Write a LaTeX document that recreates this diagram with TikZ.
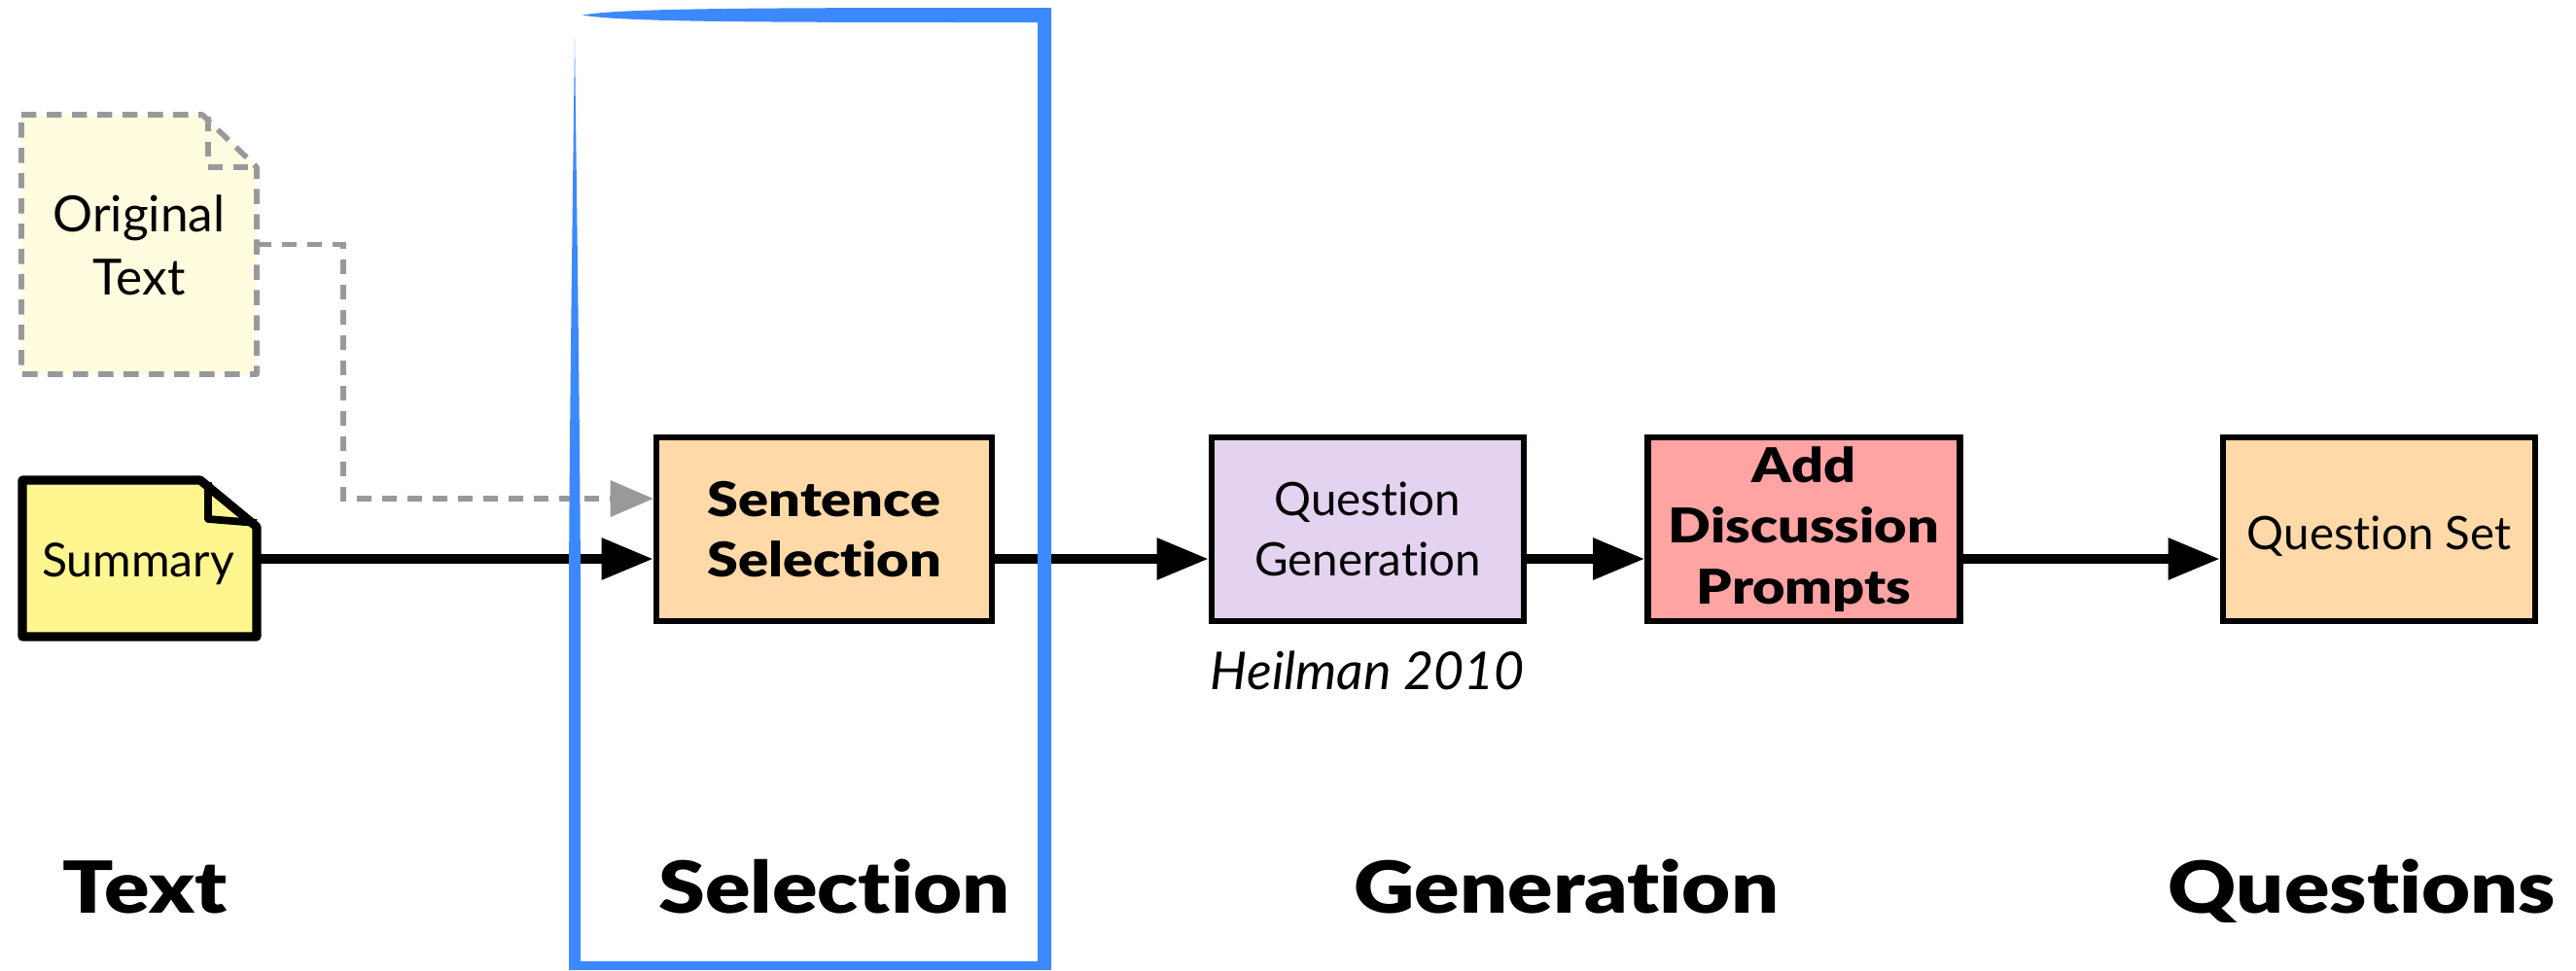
\documentclass[tikz,border=0pt]{standalone}
\usepackage{fontspec}
\setmainfont{Lato}[Ligatures=NoCommon]
\newfontfamily\heavyfont{Lato Black}[Ligatures=NoCommon,FakeStretch=1.17]
\usepackage{tikz}
\usetikzlibrary{positioning,arrows.meta}
\definecolor{notey}{HTML}{FFF68F}
\definecolor{notep}{HTML}{FFFCE0}
\definecolor{peach}{HTML}{FFDAA8}
\definecolor{lilac}{HTML}{E3D3F0}
\definecolor{rosy}{HTML}{FFA3A3}
\definecolor{blueb}{HTML}{3C89FF}
\definecolor{dashg}{HTML}{999999}
\tikzset{stagebox/.style={draw=black, line width=1.9pt, minimum width=3.21cm, minimum height=1.89cm, inner sep=0pt, align=center, font=\fontsize{13.5}{17.8}\selectfont, execute at begin node={\rule{0pt}{14pt}}}}
\tikzset{boldbox/.style={stagebox, font=\fontsize{14}{17.8}\heavyfont}}
\tikzset{arr/.style={draw, line width=2.6pt, -{Triangle[length=5.3mm,width=4.1mm]}}}
\tikzset{dashline/.style={draw=dashg, line width=1.6pt, dash pattern=on 4.4pt off 3pt}}
\tikzset{arr2/.style={dashline, -{Triangle[length=4.4mm,width=3.8mm,line width=0pt,fill=dashg]}}}
\tikzset{heading/.style={font=\fontsize{21}{25}\heavyfont, inner sep=0pt, anchor=base}}
\begin{document}
\begin{tikzpicture}[x=1cm,y=1cm]
	\useasboundingbox (0,0) rectangle (26.49,-9.98);
	% notes
	\fill[notep] (.22,-1.18) -- (2.08,-1.18) -- (2.64,-1.72) -- (2.64,-3.85) -- (.22,-3.85) -- cycle;
	\draw[dashline, line join=round] (.22,-1.18) -- (2.08,-1.18) -- (2.64,-1.72) -- (2.64,-3.85) -- (.22,-3.85) -- cycle;
	\draw[dashline] (2.14,-1.2) -- (2.14,-1.72) -- (2.64,-1.72);
	\node[font=\fontsize{14.6}{18.5}\selectfont, align=center] (orig) at (1.43,-2.52) {Original\\Text};
	\fill[notey, draw=black, line width=2.6pt, line join=round] (.23,-4.94) -- (2.06,-4.94) -- (2.64,-5.42) -- (2.64,-6.55) -- (.23,-6.55) -- cycle;
	\draw[black, line width=2.2pt, line join=round] (2.14,-4.96) -- (2.14,-5.34) -- (2.64,-5.38);
	\node[font=\fontsize{13.7}{16}\selectfont] (summary) at (1.42,-5.8) {Summary};
	% stages
	\node[boldbox, fill=peach, minimum width=3.45cm] (select) at (8.475,-5.445) {Sentence\\Selection};
	\node[stagebox, fill=lilac] (qgen) at (14.065,-5.445) {Question\\Generation};
	\node[boldbox, fill=rosy] (prompts) at (18.55,-5.445) {Add\\Discussion\\Prompts};
	\node[stagebox, fill=peach] (qset) at (24.465,-5.445) {Question Set};
	\node[font=\fontsize{15.3}{18}\selectfont\itshape, below=.15 of qgen] (heilman) {Heilman 2010};
	% connectors
	\coordinate (bend1) at (3.53,-2.515);
	\coordinate (bend2) at (3.53,-5.13);
	\coordinate (from) at (2.68,-5.75);
	\draw[arr] (from) -- (select.west |- from);
	\draw[arr] (select.east |- from) -- (qgen.west |- from);
	\draw[arr] (qgen.east |- from) -- (prompts.west |- from);
	\draw[arr] (prompts.east |- from) -- (qset.west |- from);
	\draw[arr2] (2.64,-2.515) -- (bend1) -- (bend2) -- (select.west |- bend2);
	% frame
	\fill[blueb] (5.99,-.155) .. controls (6.4,-.08) and (8,-.08) .. (10.81,-.08) -- (10.81,-9.98) -- (5.85,-9.98) -- (5.85,-6) .. controls (5.86,-4) and (5.89,-2) .. (5.91,-.4) .. controls (5.93,-2) and (5.96,-4) .. (5.97,-6) -- (5.97,-9.89) -- (10.67,-9.89) -- (10.67,-.23) .. controls (8,-.23) and (6.4,-.23) .. (5.99,-.155) -- cycle;
	% headings
	\node[heading] (text) at (1.49,-9.39) {Text};
	\node[heading] (selection) at (8.58,-9.39) {Selection};
	\node[heading] (generation) at (16.11,-9.39) {Generation};
	\node[heading] (questions) at (24.29,-9.39) {Questions};
\end{tikzpicture}
\end{document}
